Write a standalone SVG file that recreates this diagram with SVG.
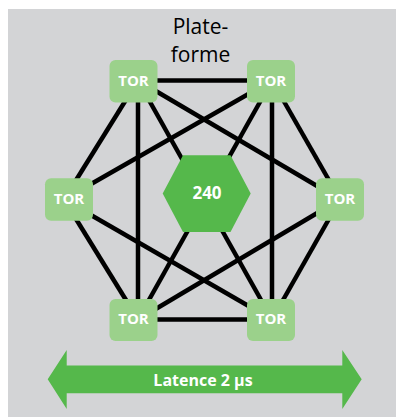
<svg xmlns="http://www.w3.org/2000/svg" width="396" height="417" viewBox="0 0 396 417">
  <style>
    .bg { fill: #d3d4d6; }
    .tor rect { fill: #9bd18b; }
    .tor text { fill: #ffffff; font-family: "Open Sans", "Liberation Sans", sans-serif; font-weight: 700; font-size: 15px; text-anchor: middle; }
    .edge { stroke: #000000; stroke-width: 4.5; fill: none; }
    .green { fill: #55b84b; }
    .label-w { fill: #ffffff; font-family: "Open Sans", "Liberation Sans", sans-serif; font-weight: 700; text-anchor: middle; }
    .title { fill: #000000; font-family: "Open Sans", "Liberation Sans", sans-serif; font-weight: 500; font-size: 21px; text-anchor: middle; }
  </style>
  <rect class="bg" x="8" y="9" width="388" height="408"/>

  <g id="connectors">
    <line class="edge" x1="138" y1="80.5" x2="272" y2="80.5"/>
    <line class="edge" x1="138" y1="319.5" x2="272" y2="319.5"/>
    <line class="edge" x1="138" y1="80.5" x2="138" y2="319.5"/>
    <line class="edge" x1="272" y1="80.5" x2="272" y2="319.5"/>
    <line class="edge" x1="138" y1="80.5" x2="64" y2="199.5"/>
    <line class="edge" x1="138" y1="80.5" x2="340" y2="199.5"/>
    <line class="edge" x1="138" y1="80.5" x2="272" y2="319.5"/>
    <line class="edge" x1="272" y1="80.5" x2="64" y2="199.5"/>
    <line class="edge" x1="272" y1="80.5" x2="340" y2="199.5"/>
    <line class="edge" x1="272" y1="80.5" x2="138" y2="319.5"/>
    <line class="edge" x1="64" y1="199.5" x2="138" y2="319.5"/>
    <line class="edge" x1="64" y1="199.5" x2="272" y2="319.5"/>
    <line class="edge" x1="340" y1="199.5" x2="138" y2="319.5"/>
    <line class="edge" x1="340" y1="199.5" x2="272" y2="319.5"/>
  </g>

  <g id="platform">
    <text class="title" x="200.5" y="33.5">Plate-</text>
    <text class="title" x="200.5" y="62.3">forme</text>
  </g>

  <g id="hub">
    <polygon class="green" points="162.7,193.6 183,155.3 230.5,155.3 250.7,193.6 230.5,232 183,232"/>
    <text class="label-w" x="207" y="199.3" font-size="17">240</text>
  </g>

  <g id="tor-tl" class="tor">
    <rect x="109.5" y="60" width="48" height="42.5" rx="6"/>
    <text x="133.5" y="85.7">TOR</text>
  </g>
  <g id="tor-tr" class="tor">
    <rect x="247" y="60" width="48" height="42.5" rx="6"/>
    <text x="271" y="85.7">TOR</text>
  </g>
  <g id="tor-l" class="tor">
    <rect x="45" y="178.3" width="48" height="42.5" rx="6"/>
    <text x="69" y="204.3">TOR</text>
  </g>
  <g id="tor-r" class="tor">
    <rect x="316" y="178.3" width="48" height="42.5" rx="6"/>
    <text x="340" y="204.3">TOR</text>
  </g>
  <g id="tor-bl" class="tor">
    <rect x="109.5" y="299" width="48" height="42" rx="6"/>
    <text x="133.5" y="324.3">TOR</text>
  </g>
  <g id="tor-br" class="tor">
    <rect x="247" y="299" width="48" height="42" rx="6"/>
    <text x="271" y="324.3">TOR</text>
  </g>

  <g id="latency">
    <polygon class="green" points="47.7,379.3 66.7,350 66.7,365.5 342.3,365.5 342.3,350 361.7,379.3 342.3,409 342.3,393.3 66.7,393.3 66.7,409"/>
    <text class="label-w" x="203" y="386" font-size="16">Latence 2 µs</text>
  </g>
</svg>
